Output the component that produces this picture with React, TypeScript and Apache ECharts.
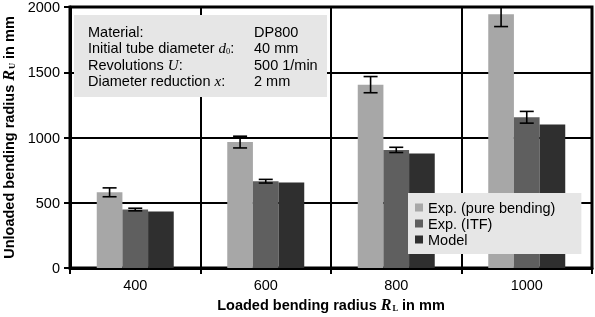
import React, { useEffect, useRef } from "react";
import * as echarts from "echarts";

const categories = ["400", "600", "800", "1000"];
const seriesNames = ["Exp. (pure bending)", "Exp. (ITF)", "Model"];
const purebending = [580, 965, 1405, 1945];
const pureErr = [34, 45, 62, 95];
const itf = [448, 665, 905, 1155];
const itfErr = [10, 14, 20, 45];
const model = [432, 655, 878, 1100];
const yTicks = [0, 500, 1000, 1500, 2000];

const infoLabels = [
  "Material:",
  "Initial tube diameter {i|d}{s|0}:",
  "Revolutions {i|U}:",
  "Diameter reduction {i|x}:",
];
const infoValues = ["DP800", "40 mm", "500 1/min", "2 mm"];

const FONT = "'Liberation Sans', Arial, Helvetica, sans-serif";
const SERIF = "'Liberation Serif', 'Times New Roman', serif";
const colors = ["#a7a7a7", "#5f5f5f", "#2f2f2f"];
const GAP = 0.41;
const FS = 14.5;

export default function App() {
  const ref = useRef<HTMLDivElement>(null);
  useEffect(() => {
    if (!ref.current) return;
    const chart = echarts.init(ref.current, undefined, { renderer: "svg" });

    const errSeries = (vals: number[], errs: number[], sIdx: number) => ({
      type: "custom",
      clip: true,
      z: 5,
      silent: true,
      data: vals.map((v, i) => [i, v - errs[i], v + errs[i]]),
      encode: { x: 0, y: [1, 2] },
      renderItem: (params: any, api: any) => {
        const idx = api.value(0);
        const lo = api.value(1);
        const hi = api.value(2);
        const catW = api.size([1, 0])[0];
        const barW = (catW * (1 - GAP)) / 3;
        const pLo = api.coord([idx, lo]);
        const pHi = api.coord([idx, hi]);
        const x = pLo[0] + (sIdx - 1) * barW;
        const h = 7;
        const st = { stroke: "#000", lineWidth: 1.6 };
        return {
          type: "group",
          children: [
            { type: "line", shape: { x1: x, y1: pHi[1], x2: x, y2: pLo[1] }, style: st },
            { type: "line", shape: { x1: x - h, y1: pHi[1], x2: x + h, y2: pHi[1] }, style: st },
            { type: "line", shape: { x1: x - h, y1: pLo[1], x2: x + h, y2: pLo[1] }, style: st },
          ],
        };
      },
    });

    const subRich = {
      i: { fontFamily: SERIF, fontStyle: "italic", fontWeight: "bold", fontSize: 16, color: "#000" },
      s: { fontFamily: SERIF, fontWeight: "bold", fontSize: 8.5, color: "#000", verticalAlign: "bottom", padding: [0, 0, 0, 1] },
    };

    const infoRich = {
      i: { fontFamily: SERIF, fontStyle: "italic", fontSize: 15, color: "#000" },
      s: { fontFamily: SERIF, fontSize: 8.5, color: "#000", verticalAlign: "bottom" },
    };

    const lineYs = [32, 48, 64.5, 81];

    chart.setOption({
      animation: false,
      textStyle: { fontFamily: FONT },
      grid: {
        left: 70,
        right: 3,
        top: 7,
        bottom: 49,
        outerBoundsMode: "none",
        containLabel: false,
        show: true,
        borderColor: "#000",
        borderWidth: 3,
        backgroundColor: "transparent",
      },
      legend: {
        data: seriesNames,
        orient: "vertical",
        left: 408,
        top: 193,
        backgroundColor: "#e6e6e6",
        padding: [7, 26, 7, 7],
        itemGap: 1,
        itemWidth: 8,
        itemHeight: 8,
        icon: "rect",
        z: 10,
        textStyle: { fontSize: FS, color: "#000", fontFamily: FONT },
      },
      xAxis: {
        type: "category",
        data: categories,
        boundaryGap: true,
        name: "{b|Loaded bending radius }{i|R}{s|L}{b| in mm}",
        nameLocation: "middle",
        nameGap: 28,
        nameTextStyle: {
          rich: { b: { fontSize: FS, fontWeight: "bold", fontFamily: FONT, color: "#000" }, ...subRich },
        },
        axisLine: { lineStyle: { color: "#000", width: 3 } },
        axisTick: { show: true, alignWithLabel: false, interval: 0, length: 6, lineStyle: { color: "#000", width: 2 } },
        axisLabel: { color: "#000", fontSize: FS, margin: 9, fontFamily: FONT, interval: 0 },
        splitLine: { show: true, interval: 0, lineStyle: { color: "#000", width: 2 } },
      },
      yAxis: {
        type: "value",
        min: 0,
        max: 2000,
        interval: 500,
        name: "{b|Unloaded bending radius }{i|R}{s|U}{b| in mm}",
        nameLocation: "middle",
        nameGap: 50,
        nameRotate: 90,
        nameTextStyle: {
          rich: { b: { fontSize: FS, fontWeight: "bold", fontFamily: FONT, color: "#000" }, ...subRich },
        },
        axisLine: { show: true, lineStyle: { color: "#000", width: 3 } },
        axisTick: { show: true, length: 6, lineStyle: { color: "#000", width: 2 } },
        axisLabel: {
          color: "#000",
          fontSize: FS,
          lineHeight: 12,
          margin: 10,
          fontFamily: FONT,
          formatter: (v: number) => (yTicks.includes(v) ? String(v) : ""),
        },
        splitLine: { show: true, lineStyle: { color: "#000", width: 2 } },
      },
      series: [
        { name: seriesNames[0], type: "bar", data: purebending, barGap: "0%", barCategoryGap: GAP * 100 + "%", itemStyle: { color: colors[0] } },
        { name: seriesNames[1], type: "bar", data: itf, barGap: "0%", barCategoryGap: GAP * 100 + "%", itemStyle: { color: colors[1] } },
        { name: seriesNames[2], type: "bar", data: model, barGap: "0%", barCategoryGap: GAP * 100 + "%", itemStyle: { color: colors[2] } },
        errSeries(purebending, pureErr, 0),
        errSeries(itf, itfErr, 1),
      ],
      graphic: [
        {
          type: "group",
          z: 10,
          children: [
            { type: "rect", shape: { x: 74, y: 15, width: 253, height: 82 }, style: { fill: "#e6e6e6" }, z: 10 },
            ...infoLabels.map((t, k) => ({
              type: "text",
              x: 88,
              y: lineYs[k],
              z: 11,
              style: {
                text: t,
                fontSize: FS,
                fontFamily: FONT,
                fill: "#000",
                verticalAlign: "middle",
                rich: infoRich,
              },
            })),
            ...infoValues.map((t, k) => ({
              type: "text",
              x: 254,
              y: lineYs[k],
              z: 11,
              style: { text: t, fontSize: FS, fontFamily: FONT, fill: "#000", verticalAlign: "middle" },
            })),
          ],
        },
      ],
    });
    return () => chart.dispose();
  }, []);
  return <div ref={ref} style={{ position: "fixed", left: 0, top: 0, width: 595, height: 317 }} />;
}
